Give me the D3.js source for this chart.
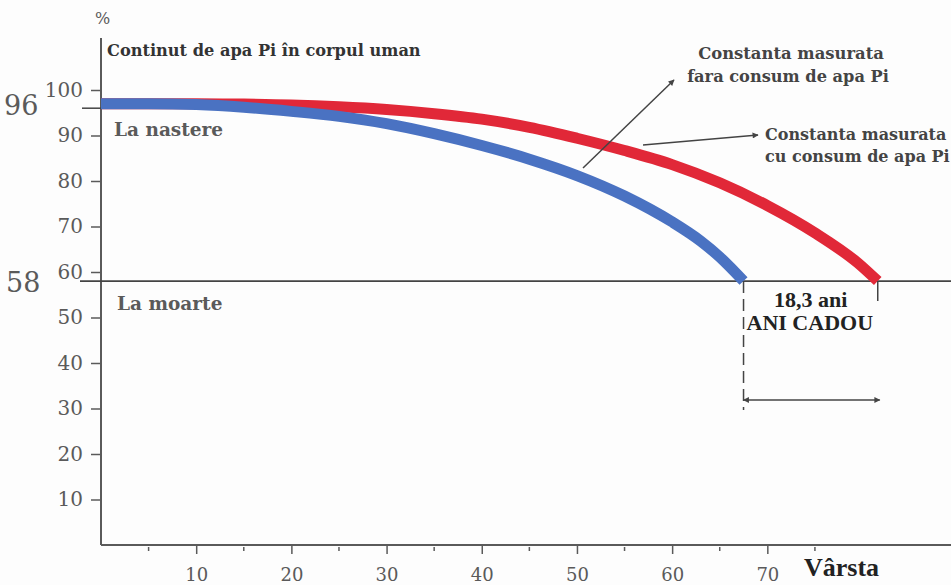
<!DOCTYPE html>
<html>
<head>
<meta charset="utf-8">
<script src="https://cdn.jsdelivr.net/npm/d3@7"></script>
<style>
  body { margin: 0; background: #fdfdfd; }
</style>
</head>
<body>
<div id="chart"></div>
<script>
// ages (years) and water content (%)
var redAges   = [0, 10, 15, 20, 25, 30, 35, 40, 45, 50, 55, 60, 65, 70, 75, 79.5, 81.6];
var redValues = [97, 97, 96.9, 96.7, 96.3, 95.7, 94.8, 93.6, 91.8, 89.4, 86.7, 83.6, 79.6, 74.6, 68.6, 62, 58];
var blueAges   = [0, 5, 10, 15, 20, 25, 30, 35, 40, 45, 50, 55, 60, 63, 65, 67.5];
var blueValues = [97, 97, 96.8, 96.2, 95.3, 94.2, 92.6, 90.4, 87.8, 84.8, 81.2, 76.7, 71, 66.8, 63.3, 58];
var yTicks = [10, 20, 30, 40, 50, 60, 70, 80, 90, 100];
var xTicks = [10, 20, 30, 40, 50, 60, 70];
var xMinor = [5, 15, 25, 35, 45, 55, 65, 75];
var birthValue = 96, deathValue = 58;

var W = 951, H = 585;
var svg = d3.select("#chart").append("svg").attr("width", W).attr("height", H);

var x = d3.scaleLinear().domain([0, 89.4]).range([101, 952]);
var y = d3.scaleLinear().domain([0, 100]).range([545, 90]);

var ink = "#5a5a5a", dark = "#222";
var wide = "DejaVu Serif", times = "Liberation Serif";

// axes
var yAxis = d3.axisLeft(y).tickValues(yTicks).tickSize(10).tickPadding(8).tickFormat(d3.format("d"));
var gy = svg.append("g").attr("transform", "translate(" + x(0) + ",0)").call(yAxis);
gy.select(".domain").remove();
gy.selectAll("line").attr("stroke", ink).attr("stroke-width", 1.5);
gy.selectAll("text").attr("fill", ink).style("font-family", wide).style("font-size", "20px");
svg.append("line").attr("x1", x(0)).attr("x2", x(0)).attr("y1", 38).attr("y2", y(0))
  .attr("stroke", ink).attr("stroke-width", 2);

var xAxis = d3.axisBottom(x).tickValues(xTicks).tickSize(9).tickPadding(14).tickFormat(d3.format("d"));
var gx = svg.append("g").attr("transform", "translate(0," + y(0) + ")").call(xAxis);
gx.select(".domain").remove();
gx.selectAll("line").attr("stroke", ink).attr("stroke-width", 1.5);
gx.selectAll("text").attr("fill", ink).style("font-family", wide).style("font-size", "18px");
svg.append("g").selectAll("line").data(xMinor).join("line")
  .attr("x1", d => x(d)).attr("x2", d => x(d)).attr("y1", y(0) + 2).attr("y2", y(0) + 6)
  .attr("stroke", ink).attr("stroke-width", 1.5);
svg.append("line").attr("x1", x(0)).attr("x2", W).attr("y1", y(0)).attr("y2", y(0))
  .attr("stroke", ink).attr("stroke-width", 2);

// birth / death reference lines
svg.append("line").attr("x1", 82).attr("x2", x(0)).attr("y1", y(birthValue)).attr("y2", y(birthValue))
  .attr("stroke", "#444").attr("stroke-width", 1.5);
svg.append("line").attr("x1", 80).attr("x2", W).attr("y1", y(deathValue)).attr("y2", y(deathValue))
  .attr("stroke", "#444").attr("stroke-width", 1.8);

// curves
var line = d3.line().curve(d3.curveMonotoneX);
svg.append("path")
  .attr("d", line(redAges.map((a, i) => [x(a), y(redValues[i])])))
  .attr("fill", "none").attr("stroke", "#e12838").attr("stroke-width", 11);
svg.append("path")
  .attr("d", line(blueAges.map((a, i) => [x(a), y(blueValues[i])])))
  .attr("fill", "none").attr("stroke", "#4a72c2").attr("stroke-width", 11);

// labels
function label(tx, ty, txt, size, color, fam, bold, anchor) {
  return svg.append("text").attr("x", tx).attr("y", ty).text(txt)
    .attr("fill", color).style("font-family", fam).style("font-size", size + "px")
    .style("font-weight", bold ? "bold" : "normal")
    .attr("text-anchor", anchor || "start");
}
label(4, y(birthValue) + 7, birthValue, 27, ink, wide, false);
label(6, y(deathValue) + 11, deathValue, 27, ink, wide, false);
label(95, 24, "%", 16, ink, wide, false);
label(107, 56, "Continut de apa Pi în corpul uman", 16.2, "#333", wide, true);
label(114, 136, "La nastere", 18.5, ink, wide, true);
label(117, 310, "La moarte", 18.5, ink, wide, true);
label(804, 576, "Vârsta", 26, dark, times, true);

label(791, 59, "Constanta masurata", 16.4, "#444", wide, true, "middle");
label(788, 82, "fara consum de apa Pi", 16.2, "#444", wide, true, "middle");
label(765, 140, "Constanta masurata", 16, "#444", wide, true);
label(765, 162, "cu consum de apa Pi", 16, "#444", wide, true);

// annotation arrows
var defs = svg.append("defs");
defs.append("marker").attr("id", "head").attr("viewBox", "0 0 10 10").attr("refX", 9).attr("refY", 5)
  .attr("markerWidth", 5).attr("markerHeight", 4).attr("orient", "auto-start-reverse")
  .append("path").attr("d", "M0,0 L10,5 L0,10 Z").attr("fill", "#444");
svg.append("line").attr("x1", 583).attr("y1", 168).attr("x2", 674).attr("y2", 80)
  .attr("stroke", "#444").attr("stroke-width", 1.5).attr("marker-end", "url(#head)");
svg.append("line").attr("x1", 643).attr("y1", 145).attr("x2", 758).attr("y2", 135)
  .attr("stroke", "#444").attr("stroke-width", 1.5).attr("marker-end", "url(#head)");

// gift years bracket
var blueEnd = blueAges[blueAges.length - 1], redEnd = redAges[redAges.length - 1];
svg.append("line").attr("x1", x(blueEnd)).attr("x2", x(blueEnd)).attr("y1", y(deathValue)).attr("y2", 410)
  .attr("stroke", "#444").attr("stroke-width", 1.5).attr("stroke-dasharray", "12,6");
svg.append("line").attr("x1", x(redEnd)).attr("x2", x(redEnd)).attr("y1", y(deathValue)).attr("y2", 301)
  .attr("stroke", "#444").attr("stroke-width", 1.5);
svg.append("line").attr("x1", x(blueEnd)).attr("x2", x(redEnd) + 2).attr("y1", 400).attr("y2", 400)
  .attr("stroke", "#444").attr("stroke-width", 1.5)
  .attr("marker-start", "url(#head)").attr("marker-end", "url(#head)");
label((x(blueEnd) + x(redEnd)) / 2, 307, "18,3 ani", 22, dark, times, true, "middle");
label(x(blueEnd) + 3, 330, "ANI CADOU", 22, dark, times, true);
</script>
</body>
</html>
